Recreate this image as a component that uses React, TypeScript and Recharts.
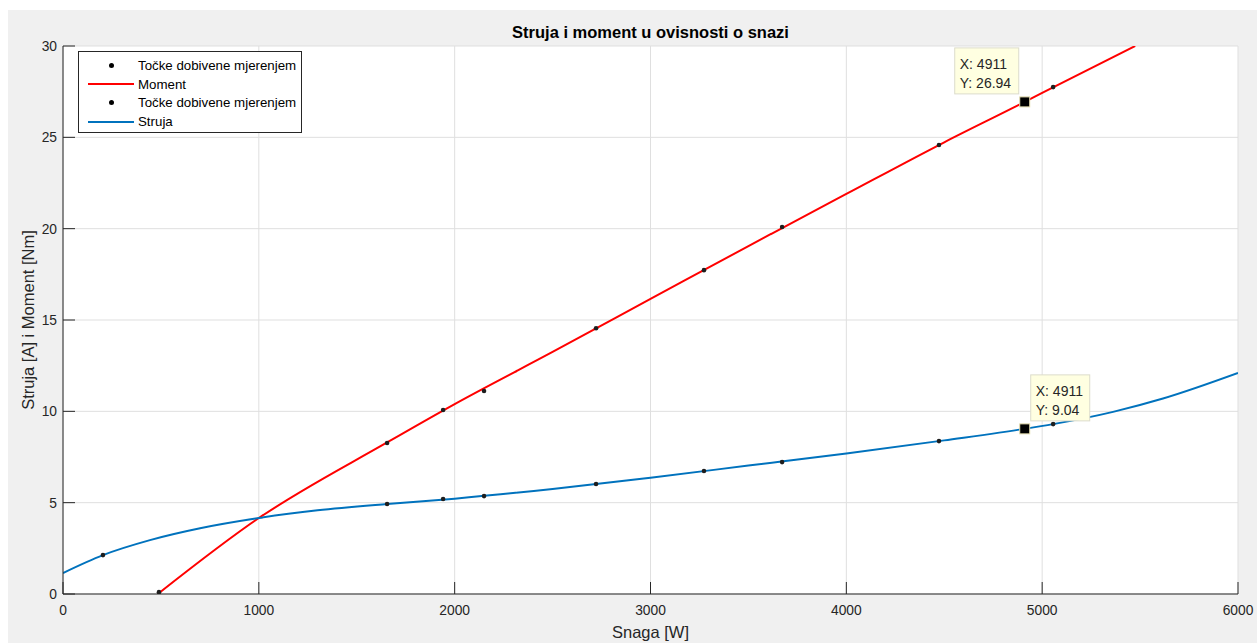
import React from 'react'
import {
  CartesianGrid,
  ComposedChart,
  Legend,
  Line,
  ReferenceDot,
  Scatter,
  XAxis,
  YAxis
} from 'recharts'

// measured points (Snaga [W] -> value)
const momentPointsX = [490, 1655, 1941, 2150, 2722, 3273, 3672, 4473, 5056]
const momentPointsY = [0.1, 8.27, 10.07, 11.11, 14.55, 17.73, 20.09, 24.58, 27.75]
const currentPointsX = [204, 1655, 1941, 2150, 2722, 3273, 3672, 4473, 5056]
const currentPointsY = [2.13, 4.93, 5.2, 5.36, 6.02, 6.73, 7.22, 8.37, 9.3]

// fitted curves
const momentFitX = [484, 1000, 1655, 2000, 2500, 3000, 3500, 4000, 4500, 4911, 5000, 5475]
const momentFitY = [0, 4.16, 8.3, 10.4, 13.25, 16.15, 19.05, 21.9, 24.73, 26.94, 27.43, 30]
const currentFitX = [0, 204, 444, 700, 1000, 1300, 1655, 2000, 2500, 3000, 3500, 4000, 4500, 4911, 5056, 5362, 5617, 6000]
const currentFitY = [1.15, 2.13, 2.95, 3.6, 4.16, 4.58, 4.93, 5.22, 5.75, 6.37, 7.03, 7.69, 8.41, 9.04, 9.3, 9.97, 10.7, 12.1]

const xTicks = [0, 1000, 2000, 3000, 4000, 5000, 6000]
const yTicks = [0, 5, 10, 15, 20, 25, 30]

const tipX = [4911, 4911]
const tipY = [26.94, 9.04]
const tipSide = ['left', 'right']

const legendItems = [
  { label: 'Točke dobivene mjerenjem', kind: 'dot', color: '#000' },
  { label: 'Moment', kind: 'line', color: '#ff0000' },
  { label: 'Točke dobivene mjerenjem', kind: 'dot', color: '#000' },
  { label: 'Struja', kind: 'line', color: '#0072bd' }
]

const zip = (xs: number[], ys: number[]) => xs.map((x, i) => ({ x, y: ys[i] }))

const momentPoints = zip(momentPointsX, momentPointsY)
const currentPoints = zip(currentPointsX, currentPointsY)
const momentFit = zip(momentFitX, momentFitY)
const currentFit = zip(currentFitX, currentFitY)

const FONT = '"Liberation Sans", Arial, Helvetica, sans-serif'
const AXIS = '#262626'
const tickStyle = { fill: AXIS, fontSize: 13.8, fontFamily: FONT }

function Dot(props: any) {
  return <circle cx={props.cx} cy={props.cy} r={2.3} fill="#1e1e1e" />
}

function LegendBox() {
  return (
    <div
      style={{
        width: 224,
        height: 82,
        border: `1px solid ${AXIS}`,
        background: '#fff',
        paddingTop: 4,
        boxSizing: 'border-box',
        fontFamily: FONT,
        fontSize: 13.3,
        color: '#000'
      }}
    >
      {legendItems.map((item, i) => (
        <div key={i} style={{ height: 18.7, display: 'flex', alignItems: 'center' }}>
          <div style={{ width: 59, position: 'relative', height: 18.7, flexShrink: 0 }}>
            {item.kind === 'line' ? (
              <div
                style={{
                  position: 'absolute',
                  left: 9,
                  top: 8.5,
                  width: 46,
                  height: 2,
                  background: item.color
                }}
              />
            ) : (
              <div
                style={{
                  position: 'absolute',
                  left: 30,
                  top: 7,
                  width: 5,
                  height: 5,
                  borderRadius: 3,
                  background: item.color
                }}
              />
            )}
          </div>
          <span style={{ whiteSpace: 'nowrap' }}>{item.label}</span>
        </div>
      ))}
    </div>
  )
}

function DataTip(props: any) {
  const { cx, cy, side, x, y } = props
  const bw = side === 'left' ? 64 : 59
  const bx = side === 'left' ? cx - 70 : cx + 6
  const by = cy - 54
  return (
    <g>
      <rect x={bx} y={by} width={bw} height={46} fill="#ffffe1" stroke="#dcdccc" />
      <text x={bx + 5} y={by + 21} fontSize={14} fontFamily={FONT} fill="#262626">
        X: {x}
      </text>
      <text x={bx + 5} y={by + 40} fontSize={14} fontFamily={FONT} fill="#262626">
        Y: {y}
      </text>
      <rect x={cx - 5} y={cy - 5} width={10} height={10} fill="#000" stroke="#e6dfb0" strokeWidth={1} />
    </g>
  )
}

export default function App() {
  return (
    <div
      style={{
        position: 'fixed',
        top: 10,
        left: 8,
        width: 1249,
        height: 633,
        background: '#f0f0f0',
        fontFamily: FONT
      }}
    >
      <div
        style={{
          position: 'absolute',
          top: 13,
          left: 55,
          width: 1175,
          textAlign: 'center',
          fontWeight: 'bold',
          fontSize: 16.5,
          color: '#000'
        }}
      >
        Struja i moment u ovisnosti o snazi
      </div>
      <ComposedChart
        width={1249}
        height={633}
        margin={{ top: 36, right: 19, bottom: 3, left: 0 }}
        style={{ position: 'absolute', top: 0, left: 0 }}
      >
        <CartesianGrid stroke="#dfdfdf" fill="#fff" />
        <XAxis
          type="number"
          dataKey="x"
          domain={[0, 6000]}
          ticks={xTicks}
          allowDataOverflow
          height={46}
          tickSize={-12}
          tickMargin={23}
          tick={tickStyle}
          stroke={AXIS}
          tickLine={{ stroke: AXIS }}
          axisLine={{ stroke: AXIS }}
          label={{
            value: 'Snaga [W]',
            position: 'insideBottom',
            offset: 2,
            style: { textAnchor: 'middle', fill: AXIS, fontSize: 16.5, fontFamily: FONT }
          }}
        />
        <XAxis
          xAxisId="top"
          orientation="top"
          type="number"
          domain={[0, 6000]}
          ticks={xTicks}
          height={0}
          tickSize={-12}
          tick={false}
          stroke={AXIS}
          axisLine={{ stroke: AXIS }}
        />
        <YAxis
          type="number"
          dataKey="y"
          domain={[0, 30]}
          ticks={yTicks}
          allowDataOverflow
          width={55}
          tickSize={-12}
          tickMargin={18}
          tick={tickStyle}
          stroke={AXIS}
          axisLine={{ stroke: AXIS }}
          label={{
            value: 'Struja [A] i Moment [Nm]',
            angle: -90,
            position: 'insideLeft',
            offset: 20,
            style: { textAnchor: 'middle', fill: AXIS, fontSize: 16.5, fontFamily: FONT }
          }}
        />
        <YAxis
          yAxisId="right"
          orientation="right"
          type="number"
          domain={[0, 30]}
          ticks={yTicks}
          width={0}
          tickSize={-12}
          tick={false}
          stroke={AXIS}
          axisLine={{ stroke: AXIS }}
        />
        <Scatter name="Točke dobivene mjerenjem" data={momentPoints} fill="#000" shape={Dot} isAnimationActive={false} />
        <Line
          name="Moment"
          data={momentFit}
          dataKey="y"
          type="monotone"
          stroke="#ff0000"
          strokeWidth={2}
          dot={false}
          isAnimationActive={false}
        />
        <Scatter name="Točke dobivene mjerenjem" data={currentPoints} fill="#000" shape={Dot} isAnimationActive={false} />
        <Line
          name="Struja"
          data={currentFit}
          dataKey="y"
          type="monotone"
          stroke="#0072bd"
          strokeWidth={2}
          dot={false}
          isAnimationActive={false}
        />
        {tipX.map((x, i) => (
          <ReferenceDot
            key={i}
            x={x}
            y={tipY[i]}
            r={5}
            shape={(p: any) => <DataTip {...p} side={tipSide[i]} x={x} y={tipY[i]} />}
          />
        ))}
        <Legend
          layout="vertical"
          verticalAlign="middle"
          align="center"
          content={() => <LegendBox />}
          wrapperStyle={{ position: 'absolute', top: 41, left: 70, width: 'auto', height: 'auto' }}
        />
      </ComposedChart>
    </div>
  )
}
